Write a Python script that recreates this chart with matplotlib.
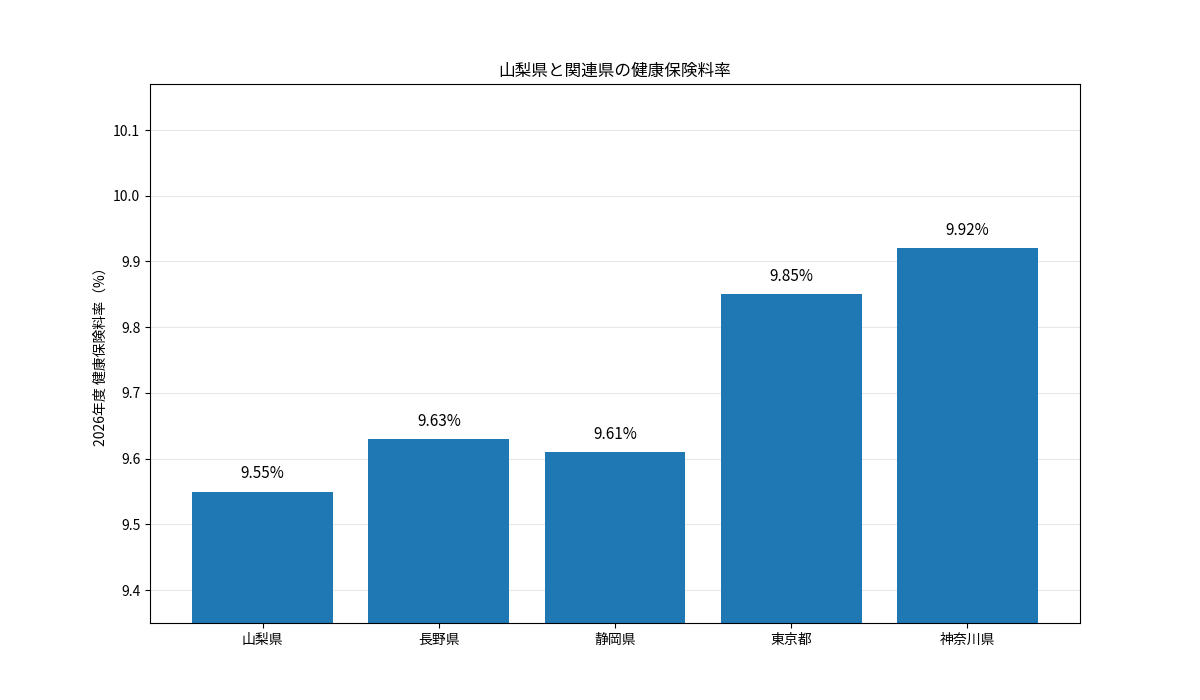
import matplotlib
matplotlib.use("Agg")
import matplotlib.pyplot as plt

plt.rcParams['font.family'] = ['Noto Sans CJK JP', 'DejaVu Sans']

# データ
prefectures = ["山梨県", "長野県", "静岡県", "東京都", "神奈川県"]
rates = [9.55, 9.63, 9.61, 9.85, 9.92]

fig, ax = plt.subplots(figsize=(12, 7), dpi=100)
bars = ax.bar(prefectures, rates, color="#1f77b4", width=0.8)

# 値ラベル
for b, v in zip(bars, rates):
    ax.text(b.get_x() + b.get_width() / 2, v + 0.014, f"{v:.2f}%",
            ha="center", va="bottom", fontsize=11)

ax.set_ylim(9.35, 10.17)
ax.set_title("山梨県と関連県の健康保険料率", fontsize=12)
ax.set_ylabel("2026年度 健康保険料率（%）")
ax.grid(axis="y", alpha=0.3)
ax.set_axisbelow(True)

fig.savefig("out.png", dpi=100)
